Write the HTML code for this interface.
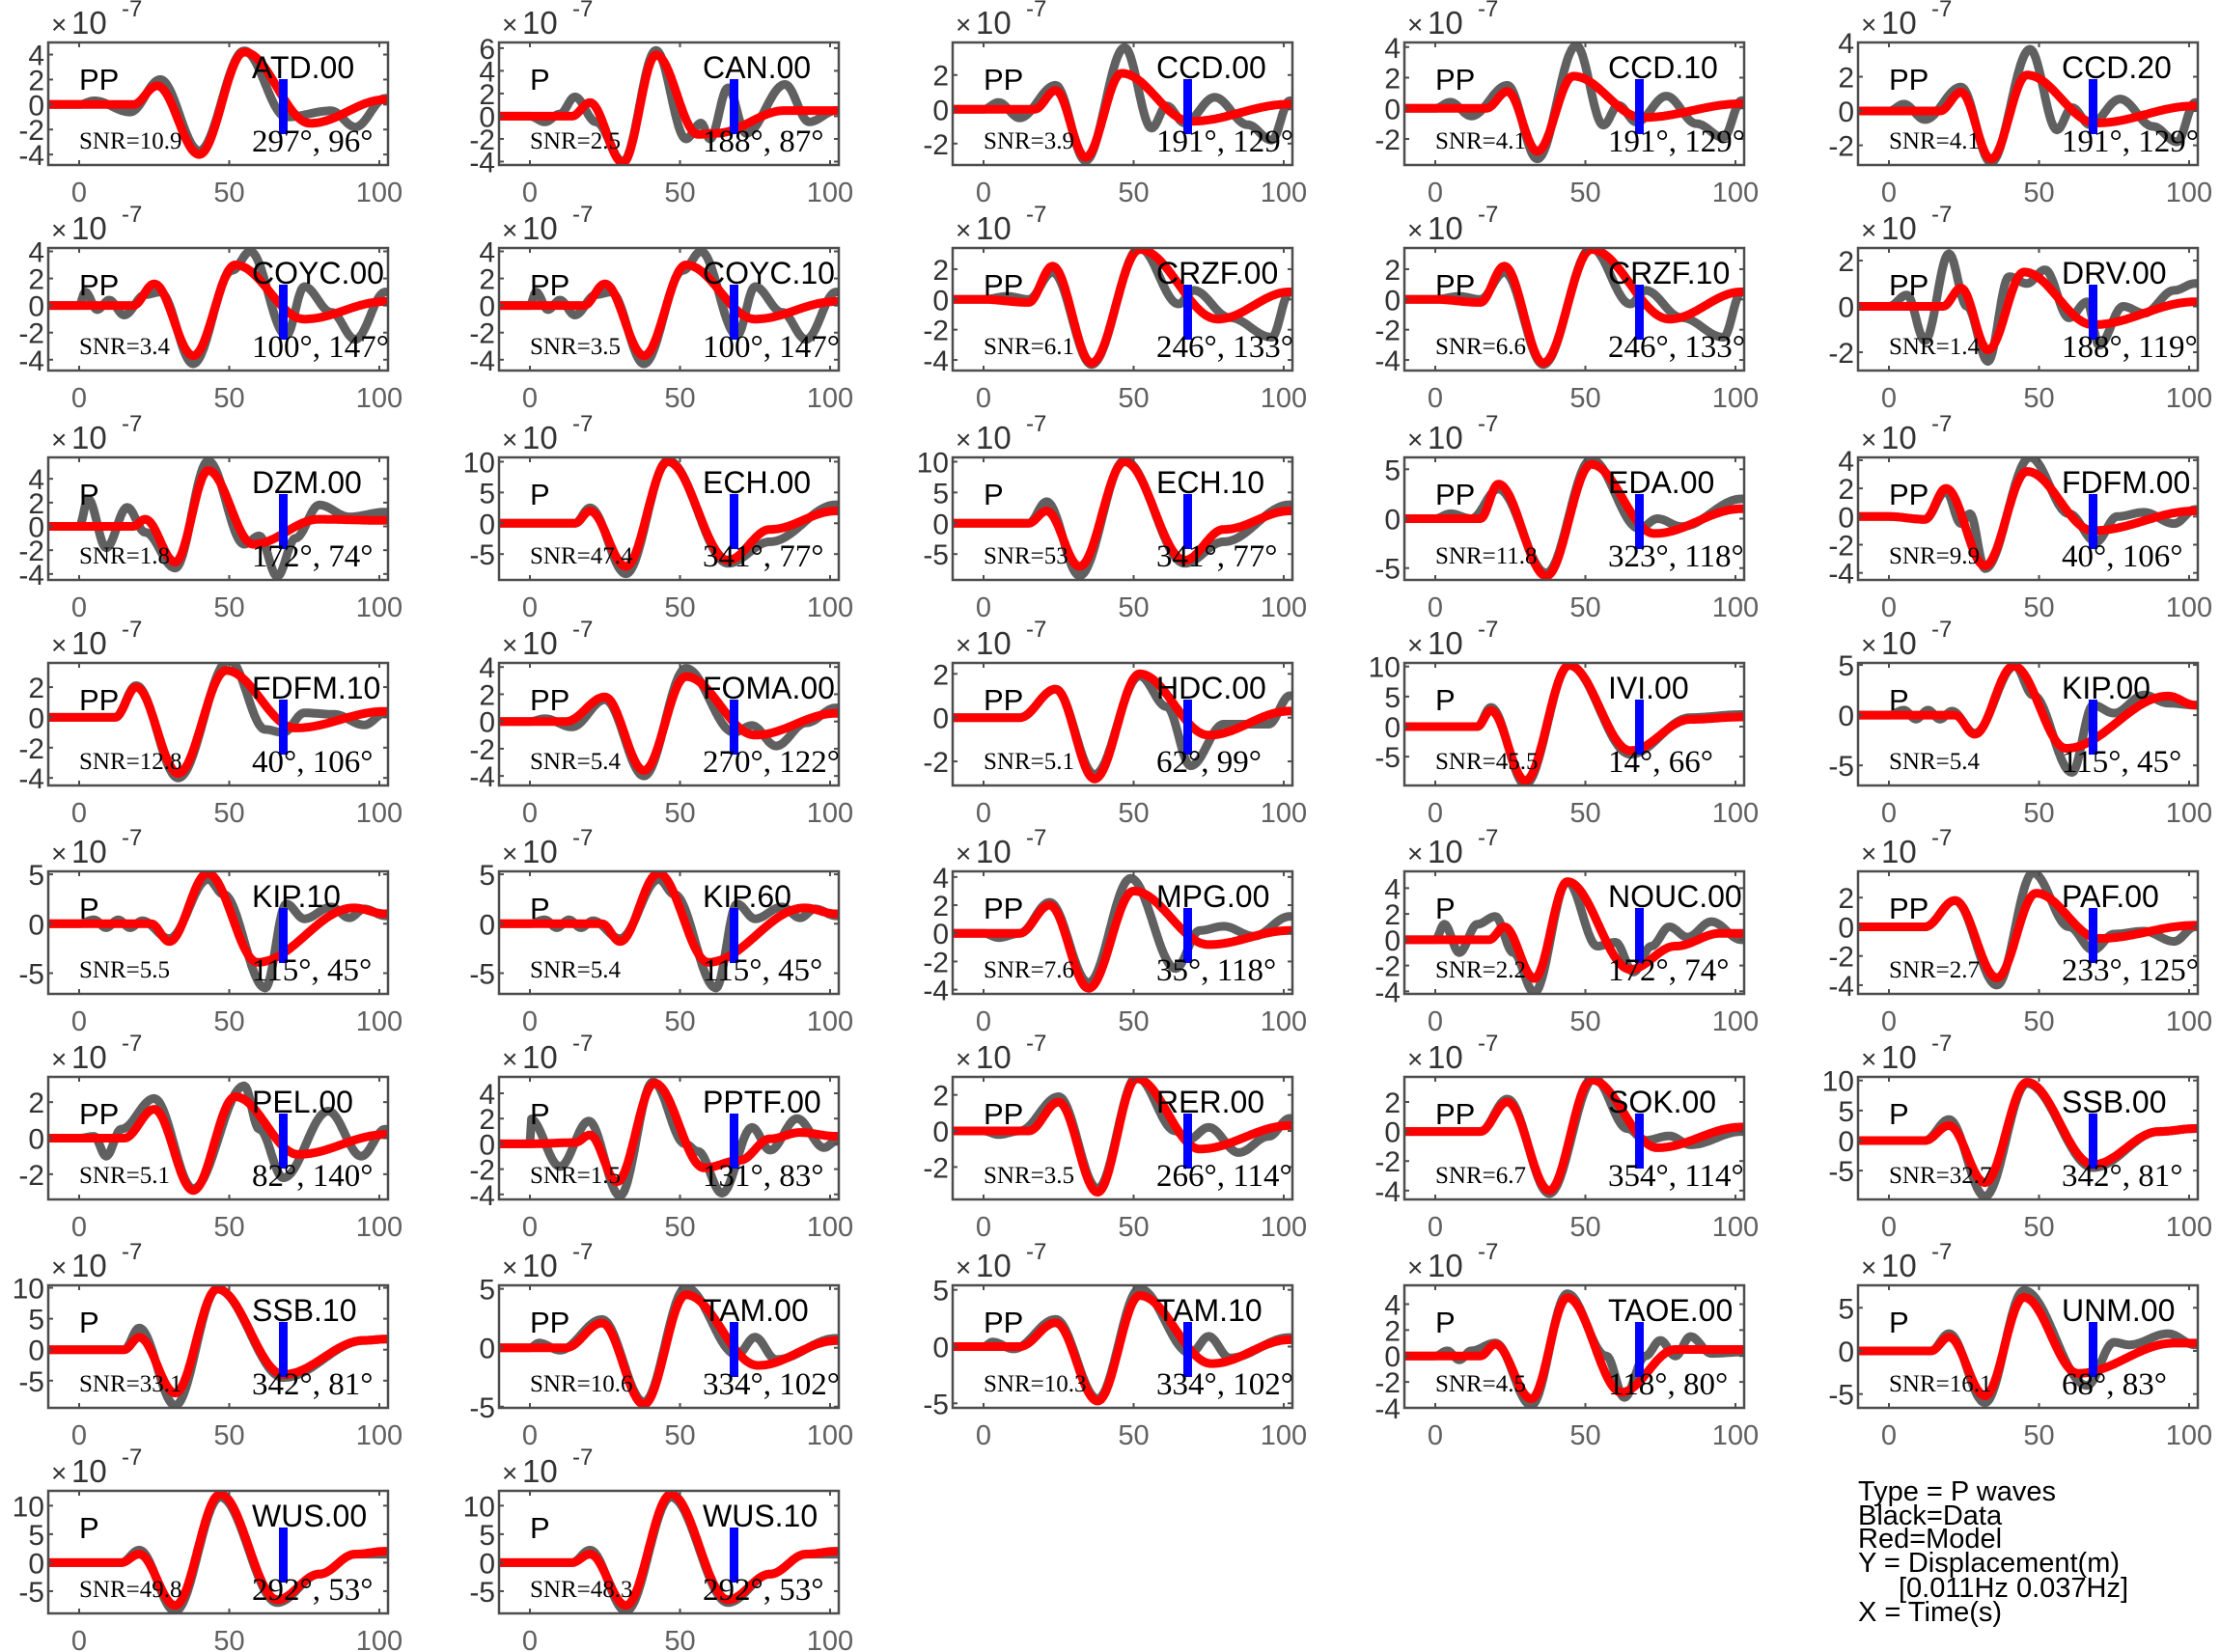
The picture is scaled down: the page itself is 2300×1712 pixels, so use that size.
<!DOCTYPE html>
<html><head><meta charset="utf-8">
<style>
html,body{margin:0;padding:0;background:#fff;}
svg{display:block;}
.yt{font-family:"Liberation Sans",sans-serif;font-size:30px;fill:#333;}
.xt{font-family:"Liberation Sans",sans-serif;font-size:29px;fill:#606060;}
.nm{font-family:"Liberation Sans",sans-serif;font-size:32px;fill:#000;}
.ph{font-family:"Liberation Sans",sans-serif;font-size:31px;fill:#000;}
.snr{font-family:"Liberation Serif",serif;font-size:25px;fill:#000;}
.ang{font-family:"Liberation Serif",serif;font-size:33px;fill:#000;}
.ex{font-family:"Liberation Sans",sans-serif;fill:#333;}
.lg{font-family:"Liberation Sans",sans-serif;font-size:29px;fill:#000;}
</style></head>
<body>
<svg id="s" xmlns="http://www.w3.org/2000/svg" width="2300" height="1712" viewBox="0 0 2300 1712">
<rect width="2300" height="1712" fill="#fff"/>
<text class="lg" x="1925" y="1555">Type = P waves</text>
<text class="lg" x="1925" y="1580">Black=Data</text>
<text class="lg" x="1925" y="1604">Red=Model</text>
<text class="lg" x="1925" y="1629">Y = Displacement(m)</text>
<text class="lg" x="1967" y="1655">[0.011Hz 0.037Hz]</text>
<text class="lg" x="1925" y="1680">X = Time(s)</text>
</svg>
<script>
var P=[
["ATD.00","PP","10.9","297°, 96°",4.97,-4.84,2,"0:0 18:0 26:1.5 40:-4 55:4.2 77:-1.5 102:0.4","0:0 5:0.3 17:-0.6 27:2 40:-3.7 55:4.3 69:-1 84:-0.5 92:-1.8 102:0.5"],
["CAN.00","P","2.5","188°, 87°",6.5,-4.3,2,"0:0 14:0 20:1.2 31:-4.1 42:5.4 56:-1.6 62:-1.5 85:0.5 102:0.5","0:0 5:-0.5 10:0.2 15:1.7 22:-0.5 31:-4 42:5.8 52:-2 57:-0.6 60:-2 66:2.5 72:-1.5 85:2.8 93:-0.5 102:0.5"],
["CCD.00","PP","3.9","191°, 129°",3.9,-3.25,2,"0:0 17:0 24:1.1 34:-2.8 46:2.1 69:-0.7 102:0.3","0:0 5:0.4 12:-0.5 24:1.4 34:-3 47:3.6 56:-1.1 61:0.2 67:-0.8 77:0.7 88:-0.9 96:-1.8 102:0.5"],
["CCD.10","PP","4.1","191°, 129°",4.3,-3.7,2,"0:0 17:0 24:1.1 34:-2.8 46:2.1 69:-0.6 102:0.3","0:0 5:0.4 12:-0.5 24:1.5 34:-3.3 47:4.1 56:-1.1 61:0.2 67:-0.9 77:0.8 87:-1.0 96:-1.9 102:0.5"],
["CCD.20","PP","4.1","191°, 129°",4.0,-3.15,2,"0:0 17:0 24:1.1 34:-2.8 46:2.1 69:-0.7 102:0.3","0:0 5:0.4 12:-0.5 24:1.4 34:-3 47:3.6 56:-1.1 61:0.2 67:-0.8 77:0.7 88:-0.9 96:-1.8 102:0.5"],
["COYC.00","PP","3.4","100°, 147°",4.25,-4.8,2,"0:0 18:0 25:1.6 38:-3.7 52:3.0 75:-1.0 102:0.3","0:0 2:1 6:-0.3 10:0.4 15:-0.7 22:0.8 27:1 38:-4.3 51:2.6 57:4 69:-2.2 75:1.4 84:-0.5 92:-2.5 102:1"],
["COYC.10","PP","3.5","100°, 147°",4.25,-4.8,2,"0:0 18:0 25:1.6 38:-3.7 52:3.0 75:-1.0 102:0.3","0:0 2:1 6:-0.3 10:0.4 15:-0.7 22:0.8 27:1 38:-4.3 51:2.6 57:4 69:-2.2 75:1.4 84:-0.5 92:-2.5 102:1"],
["CRZF.00","PP","6.1","246°, 133°",3.4,-4.7,2,"0:0 15:-0.2 23:2.2 36:-4.2 52:3.3 78:-1.3 102:0.5","0:0 8:0.2 15:0 23:1.8 36:-4.3 52:3.4 65:-0.3 70:0.6 82:-1.2 96:-2.5 102:0.5"],
["CRZF.10","PP","6.6","246°, 133°",3.4,-4.7,2,"0:0 15:-0.2 23:2.2 36:-4.2 52:3.3 78:-1.3 102:0.5","0:0 8:0.2 15:0 23:1.8 36:-4.3 52:3.4 65:-0.3 70:0.6 82:-1.2 96:-2.5 102:0.5"],
["DRV.00","PP","1.4","188°, 119°",2.55,-2.8,2,"0:0 18:0 24:0.8 33:-1.9 45:1.5 68:-0.8 102:0.2","0:0 6:0.5 12:-1.5 20:2.3 26:0 33:-2.4 40:1.3 46:1.0 52:1.6 60:-0.5 66:0.2 70:-1.7 78:0 85:-0.3 95:0.7 102:1"],
["DZM.00","P","1.8","172°, 74°",5.8,-4.5,2,"0:0 18:0 22:0.6 32:-3 43:4.7 58:-1.5 80:0.6 102:0.5","0:0 3:2.3 9:-1.8 16:1.6 22:-0.5 32:-3.5 43:5.5 55:-1.5 60:-0.8 66:-4.2 72:-1.0 80:1.8 90:0.8 102:1.2"],
["ECH.00","P","47.4","341°, 77°",10.7,-9.2,5,"0:0 15:0 20:2 32:-7 46:10 66:-6 80:-1 102:2","0:0 15:0 20:2.5 32:-8.2 46:10.2 66:-6.5 80:-3 102:3"],
["ECH.10","P","53","341°, 77°",10.7,-9.2,5,"0:0 15:0 21:2 32:-7 47:10 67:-6 80:-1 102:2","0:0 15:0 21:3.5 32:-8.5 47:10.2 67:-6.5 80:-3 102:3"],
["EDA.00","PP","11.8","323°, 118°",6.2,-6.2,5,"0:0 15:0 21:3.5 37:-5.8 52:5.5 73:-1.5 102:1.0","0:0 5:0.5 12:0 21:3 37:-5.5 52:6 68:-1 74:0 82:-0.8 102:2"],
["FDFM.00","PP","9.9","40°, 106°",4.2,-4.5,2,"0:0 12:-0.2 19:2 32:-3.5 46:3.2 68:-1.0 102:0.4","0:0 12:-0.2 19:1.8 24:-0.5 27:0.2 32:-3.7 47:4.2 60:0.2 69:-1.8 76:0 85:0.3 95:-0.5 102:0.5"],
["FDFM.10","PP","12.8","40°, 106°",3.6,-4.5,2,"0:0 12:0 19:2 33:-3.7 49:3.1 72:-0.7 102:0.4","0:0 12:0 19:2.1 33:-4.0 50:3.8 62:-0.8 68:-1.0 75:0.3 85:0.2 95:-0.5 102:0.3"],
["FOMA.00","PP","5.4","270°, 122°",4.3,-4.7,2,"0:0 12:0 25:1.8 38:-3.6 52:3.3 75:-1.0 102:0.6","0:0 5:0.2 14:-0.4 25:1.6 38:-4.0 52:3.9 68:-0.8 74:-0.3 82:-1.8 92:-0.1 102:1"],
["HDC.00","PP","5.1","62°, 99°",2.5,-3.1,2,"0:0 12:0 24:1.3 37:-2.8 52:2.0 75:-0.8 102:0.3","0:0 12:0 24:1.3 37:-2.6 52:1.9 61:0.5 69:-2.2 80:-0.3 95:-0.3 102:1"],
["IVI.00","P","45.5","14°, 66°",10.6,-9.8,5,"0:0 14:0 18.5:2.7 30:-9 44.6:10.2 65:-4 85:1.2 102:1.6","0:0 14:0 18.5:3.2 30:-9.6 44.6:10.2 65:-4.6 85:1.5 102:2"],
["KIP.00","P","5.4","115°, 45°",5.2,-7.0,5,"0:0 22:0 28.6:-1.9 41.5:4.9 59:-3.3 93:1.9 102:1.0","0:0 5:0.5 9:-0.4 13:0.5 17:-0.4 21:0.4 28.6:-1.8 42:4.9 48:2 61:-5.7 68:1.0 75:0.2 85:2 93:1.2 102:1"],
["KIP.10","P","5.5","115°, 45°",5.3,-7.1,5,"0:0 24:0 30:-1.8 42.8:5.1 59.4:-3.9 91.5:1.6 102:1.0","0:0 5:0.4 9:-0.4 13:0.4 17:-0.4 21:0.3 30:-1.5 43:4.5 48:3 62:-6.5 69:2.0 75:0.5 84:1.7 90:0.6 95:1.5 102:0.8"],
["KIP.60","P","5.4","115°, 45°",5.3,-7.1,5,"0:0 24:0 30:-1.8 42.8:5.1 59.4:-3.9 91.5:1.6 102:1.0","0:0 5:0.4 9:-0.4 13:0.4 17:-0.4 21:0.3 30:-1.5 43:4.5 48:3 62:-6.5 69:2.0 75:0.5 84:1.7 90:0.6 95:1.5 102:0.8"],
["MPG.00","PP","7.6","35°, 118°",4.4,-4.3,2,"0:0 12:0 22:2.0 35:-3.9 50:3.0 75:-0.8 102:0.2","0:0 5:-0.3 12:0 22:2.2 35:-3.5 49:3.9 64:-2.5 72:0.2 80:0.5 90:-0.2 102:1.2"],
["NOUC.00","P","2.2","172°, 74°",5.3,-4.2,2,"0:0 18:0 23:1.0 33:-3.0 44:4.5 65:-2.3 80:-0.5 95:0.5 102:0.5","0:0 3:1.2 8:-1 14:1.2 20:1.8 26:-1 33:-4.1 44:4.5 54:-0.5 60:-0.2 66:-2.5 72:-0.5 78:1.0 84:0.2 92:1.4 102:0"],
["PAF.00","PP","2.7","233°, 125°",3.8,-4.6,2,"0:0 12:0 22:1.8 36:-3.5 49:2.3 70:-0.8 102:0.1","0:0 12:0 22:1.8 36:-4.0 48:3.7 60:0 68:-1.6 75:-0.5 85:-0.3 95:-1.0 102:0"],
["PEL.00","PP","5.1","82°, 140°",3.4,-3.4,2,"0:0 15:0 25:1.6 38:-2.9 52:2.3 73:-0.9 102:0.2","0:0 5:0.1 9:-1.0 14:0.5 25:2.2 38:-2.8 55:2.9 60:0.5 68:-2.2 83:1.5 94:-1.0 102:0.5"],
["PPTF.00","P","1.5","131°, 83°",5.3,-4.4,2,"0:0 15:0.1 20:0.7 29:-3.0 41.5:4.8 58:-1.9 70:-1.3 80:0.4 90:0.9 102:0.6","0:0 0:2.0 10:-1.8 19.6:1.8 30:-4.1 41:4.9 51.7:0 56:-0.6 64:-3.9 74:1.3 80:-0.5 89:2.0 98:-0.3 102:0.2"],
["RER.00","PP","3.5","266°, 114°",3.0,-3.8,2,"0:0 15:0 25:1.6 38:-3.4 51:2.9 72:-1.0 102:0.3","0:0 5:-0.2 12:0 25:1.9 38:-3.2 51:3.0 64:0 68:-0.5 75:0.2 85:-1.2 95:-0.3 102:0.7"],
["SOK.00","PP","6.7","354°, 114°",3.7,-4.6,2,"0:0 15:0 24:2.0 38:-4.0 52:3.5 74:-1.1 102:0.3","0:0 15:0 24:2.2 38:-4.2 53:3.6 64:0.2 70:-0.6 78:-0.3 85:-0.9 102:0"],
["SSB.00","P","32.7","342°, 81°",10.6,-9.8,5,"0:0 12:0 20:2.5 32:-7 46:9.7 68:-4 90:1.5 102:2","0:0 12:0 20:3.5 32:-9.3 46:9.5 68:-4.5 90:1.5 102:2"],
["SSB.10","P","33.1","342°, 81°",10.4,-9.4,5,"0:0 15:0 20:2 32:-7 46:9.8 68:-4 95:1.5 102:1.7","0:0 15:0 20:3.5 32:-9 46:9.8 68:-4.5 95:1.5 102:1.7"],
["TAM.00","PP","10.6","334°, 102°",5.3,-5.1,5,"0:0 12:0 24:2.1 38:-4.8 52:4.5 76:-1.5 102:0.6","0:0 3:0.4 10:-0.2 24:2.4 38:-4.6 52:5.1 69:-0.6 75:0.9 82:-1.0 102:0.8"],
["TAM.10","PP","10.3","334°, 102°",5.4,-5.4,5,"0:0 12:0 24:2.1 38:-4.8 52:4.5 76:-1.5 102:0.6","0:0 3:0.4 10:-0.2 24:2.4 38:-4.6 52:5.1 69:-0.6 75:0.9 82:-1.0 102:0.8"],
["TAOE.00","P","4.5","118°, 80°",5.45,-4.0,2,"0:0 15:0 20:0.9 32:-3.3 44:4.5 62:-2.8 80:0.5 102:0.5","0:0 4:0.4 8:-0.3 12:0.4 20:1.0 32:-3.8 44:4.8 57:0 63:-3.2 70:0 75:1.2 80:0 85:1.5 92:0.2 102:0.3"],
["UNM.00","P","16.1","68°, 83°",7.6,-6.6,5,"0:0 14:0 20:1.6 32:-5.2 45:6.2 63:-2.6 95:0.9 102:0.9","0:0 14:0 20:2 32:-6 45:7 66:-4 75:1 80:0.7 93:2 102:0.7"],
["WUS.00","P","49.8","292°, 53°",12.6,-8.9,5,"0:0 14:0 20:1.5 32:-7.5 47:12 66:-6.5 80:-2 92:1.5 102:2","0:0 14:0 20:2.2 32:-8.5 47:11.5 66:-7 80:-2 92:1.5 102:1.5"],
["WUS.10","P","48.3","292°, 53°",12.6,-8.9,5,"0:0 14:0 20:1.5 32:-7.5 47:12 66:-6.5 80:-2 92:1.5 102:2","0:0 14:0 20:2.2 32:-8.5 47:11.5 66:-7 80:-2 92:1.5 102:1.5"]
];
var LEFT=[50,517,987,1455,1925], TOP=[44,257,474,687,903,1116,1332,1545];
var W=352,H=127,NS="http://www.w3.org/2000/svg",svg=document.getElementById("s");
function el(n,a,t){var e=document.createElementNS(NS,n);for(var k in a)e.setAttribute(k,a[k]);if(t!=null)e.textContent=t;svg.appendChild(e);return e;}
function parse(s){return s.split(" ").map(function(p){var q=p.split(":");return [+q[0],+q[1]];});}
function val(pts,t){if(t<=pts[0][0])return pts[0][1];for(var i=1;i<pts.length;i++){if(t<=pts[i][0]){var a=pts[i-1],b=pts[i];var f=(t-a[0])/((b[0]-a[0])||1);return a[1]+(b[1]-a[1])*(1-Math.cos(Math.PI*f))/2;}}return pts[pts.length-1][1];}
var defs=el("defs",{});
P.forEach(function(p,i){
 var L=LEFT[i%5],T=TOP[Math.floor(i/5)],ymax=p[4],ymin=p[5],st=p[6];
 function X(t){return L+32+t*3.11;}
 function Y(v){return T+(ymax-v)/(ymax-ymin)*H;}
 var cp=document.createElementNS(NS,"clipPath");cp.setAttribute("id","c"+i);
 var r=document.createElementNS(NS,"rect");r.setAttribute("x",L);r.setAttribute("y",T);r.setAttribute("width",W);r.setAttribute("height",H);cp.appendChild(r);defs.appendChild(cp);
 var g=el("g",{"clip-path":"url(#c"+i+")"});
 function curve(s,col){var pts=parse(s),d="";for(var t=-10.5;t<=103;t+=0.5){d+=(d?" L":"M")+X(t).toFixed(1)+" "+Y(val(pts,t)).toFixed(1);}
  var e=document.createElementNS(NS,"path");e.setAttribute("d",d);e.setAttribute("fill","none");e.setAttribute("stroke",col);e.setAttribute("stroke-width","9");e.setAttribute("stroke-linejoin","round");g.appendChild(e);}
 curve(p[8],"#606060");curve(p[7],"#ff0000");
 el("rect",{x:L,y:T,width:W,height:H,fill:"none",stroke:"#4d4d4d","stroke-width":2.5});
 [0,50,100].forEach(function(t){var x=X(t);
  el("line",{x1:x,y1:T+H,x2:x,y2:T+H-5,stroke:"#4d4d4d","stroke-width":2});
  el("line",{x1:x,y1:T,x2:x,y2:T+5,stroke:"#4d4d4d","stroke-width":2});
  el("text",{class:"xt",x:x,y:T+H+38,"text-anchor":"middle"},String(t));});
 for(var v=Math.ceil(ymin/st)*st;v<=ymax;v+=st){var y=Y(v);
  el("line",{x1:L,y1:y,x2:L+5,y2:y,stroke:"#4d4d4d","stroke-width":2});
  el("line",{x1:L+W,y1:y,x2:L+W-5,y2:y,stroke:"#4d4d4d","stroke-width":2});
  el("text",{class:"yt",x:L-4,y:y+11,"text-anchor":"end"},String(v));}
 el("rect",{x:X(68)-4.5,y:T+38,width:9,height:57,fill:"#0000ff"});
 el("text",{class:"ph",x:L+32,y:T+49},p[1]);
 el("text",{class:"nm",x:L+211,y:T+37},p[0]);
 el("text",{class:"snr",x:L+32,y:T+110},"SNR="+p[2]);
 el("text",{class:"ang",x:L+211,y:T+113},p[3]);
 el("text",{class:"ex",x:L+3,y:T-9,"font-size":"28"},"×");
 el("text",{class:"ex",x:L+24,y:T-9,"font-size":"33"},"10");
 el("text",{class:"ex",x:L+76,y:T-27,"font-size":"24"},"-7");
});
</script>
</body></html>
